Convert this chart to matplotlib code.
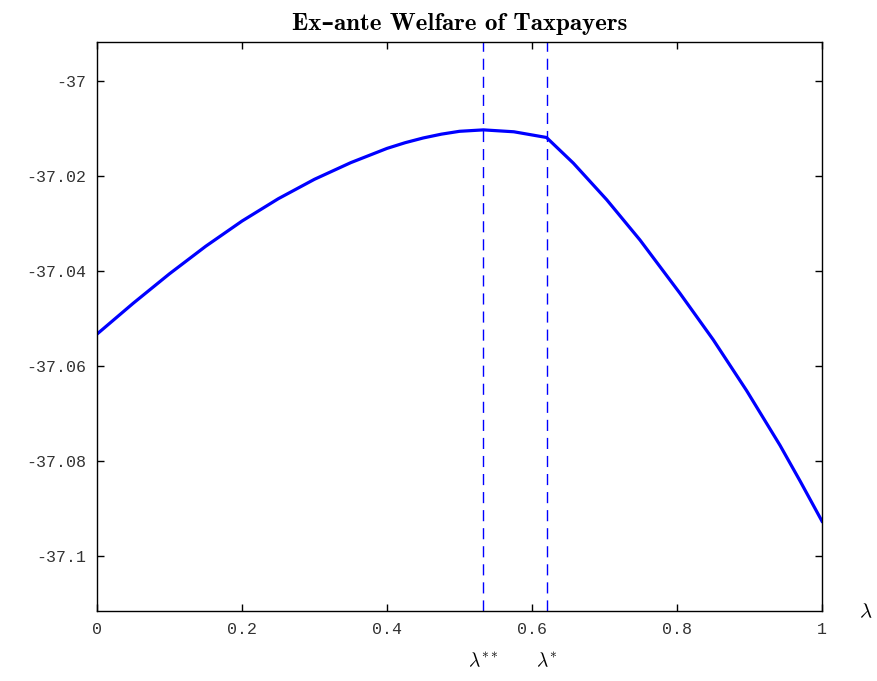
import matplotlib
matplotlib.use("Agg")
import matplotlib.pyplot as plt
from matplotlib.ticker import FixedLocator, FixedFormatter

plt.rcParams['axes.unicode_minus'] = False
plt.rcParams['mathtext.fontset'] = 'cm'

# Data
lam = [0.0, 0.05, 0.1, 0.15, 0.2, 0.25, 0.3, 0.35, 0.4, 0.425, 0.45, 0.475, 0.5,
       0.533, 0.575, 0.62, 0.657, 0.703, 0.749, 0.804, 0.85, 0.896, 0.942,
       0.97, 1.0]
welfare = [-37.0533, -37.0468, -37.0406, -37.0348, -37.0295, -37.0248, -37.0207,
           -37.0172, -37.0142, -37.0130, -37.0120, -37.0112, -37.0106, -37.0103,
           -37.0107, -37.0119, -37.0173, -37.0250, -37.0335, -37.0447, -37.0545,
           -37.0652, -37.0767, -37.0843, -37.0927]
lam_double_star = 0.533
lam_star = 0.62

xticks = [0, 0.2, 0.4, 0.6, 0.8, 1.0]
xtick_labels = ['0', '0.2', '0.4', '0.6', '0.8', '1']
yticks = [-37.0, -37.02, -37.04, -37.06, -37.08, -37.1]
ytick_labels = ['-37', '-37.02', '-37.04', '-37.06', '-37.08', '-37.1']

fig = plt.figure(figsize=(8.77, 6.81), dpi=100)
ax = fig.add_axes([0.1106, 0.1028, 0.8267, 0.8355])

ax.plot(lam, welfare, color='#0000ff', lw=2.3, solid_joinstyle='round')
for v in (lam_double_star, lam_star):
    ax.axvline(v, color='#0000ff', lw=1.0, ls=(0, (8, 5)))

ax.set_xlim(0, 1)
ax.set_ylim(-37.1116, -36.9918)

ax.xaxis.set_major_locator(FixedLocator(xticks))
ax.xaxis.set_major_formatter(FixedFormatter(xtick_labels))
ax.yaxis.set_major_locator(FixedLocator(yticks))
ax.yaxis.set_major_formatter(FixedFormatter(ytick_labels))

ax.tick_params(direction='in', length=5, width=1, top=True, right=True,
               labelsize=12, colors='black', labelcolor='#333333', pad=8)
for lab in ax.get_xticklabels() + ax.get_yticklabels():
    lab.set_family('Liberation Mono')
for s in ax.spines.values():
    s.set_linewidth(1.0)

ax.set_title('Ex\u2013ante Welfare of Taxpayers', family=['cmb10', 'DejaVu Serif'],
             fontsize=18, fontweight='bold', pad=9)

trans = ax.get_xaxis_transform()
ax.text(1.06, 0.0, r'$\lambda$', transform=ax.transAxes, fontsize=15,
        ha='center', va='center')
ax.text(lam_double_star, -0.088, r'$\lambda^{**}$', transform=trans, fontsize=14,
        ha='center', va='center')
ax.text(lam_star, -0.088, r'$\lambda^{*}$', transform=trans, fontsize=14,
        ha='center', va='center')

fig.savefig('out.png', dpi=100)
